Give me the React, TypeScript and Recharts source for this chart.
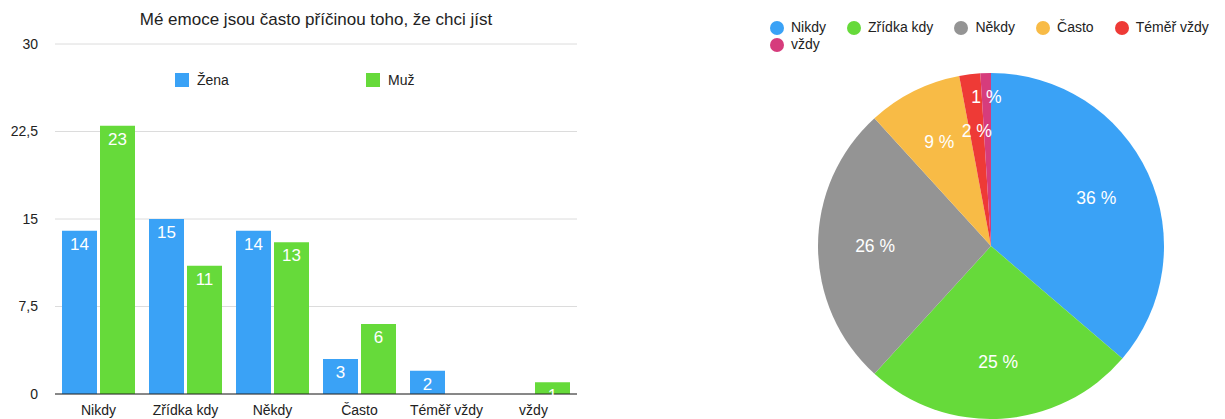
import { BarChart, Bar, XAxis, YAxis, CartesianGrid, LabelList, PieChart, Pie, Cell } from 'recharts'

const categories = ['Nikdy', 'Zřídka kdy', 'Někdy', 'Často', 'Téměř vždy', 'vždy']
const zena = [14, 15, 14, 3, 2, 0]
const muz = [23, 11, 13, 6, 0, 1]
const yTicks = [0, 7.5, 15, 22.5, 30]
const pieValues = [37, 26, 27, 9, 2, 1]
const seriesNames = ['Žena', 'Muž']

const BLUE = '#3aa2f6'
const GREEN = '#66da3a'
const barColors = [BLUE, GREEN]
const pieColors = [BLUE, GREEN, '#949494', '#f8bb46', '#ee3a36', '#d63c7c']

const FONT = '"Liberation Sans", Arial, Helvetica, sans-serif'

const barData = categories.map((c, i) => ({ name: c, zena: zena[i], muz: muz[i] }))
const pieData = categories.map((c, i) => ({ name: c, value: pieValues[i] }))
const pieTotal = pieValues.reduce((a, b) => a + b, 0)

const fmtNum = (v: number) => String(v).replace('.', ',')

const BarLegend = () => (
  <div style={{ position: 'absolute', left: 175, top: 71, display: 'flex', fontFamily: FONT, fontSize: 14, color: '#222', lineHeight: '18px' }}>
    {seriesNames.map((n, i) => (
      <div key={n} style={{ display: 'flex', alignItems: 'center', width: 191 }}>
        <span style={{ width: 14, height: 14, background: barColors[i], marginRight: 8, display: 'inline-block' }} />
        {n}
      </div>
    ))}
  </div>
)

const PieLegend = () => (
  <div style={{ position: 'absolute', left: 10, top: 19, width: 472, display: 'flex', flexWrap: 'wrap',
    fontFamily: FONT, fontSize: 14, color: '#222', lineHeight: '17px' }}>
    {categories.map((c, i) => (
      <div key={c} style={{ display: 'flex', alignItems: 'center', marginRight: 21 }}>
        <span style={{ width: 14, height: 14, borderRadius: '50%', background: pieColors[i], marginRight: 7, display: 'inline-block' }} />
        {c}
      </div>
    ))}
  </div>
)

const RADIAN = Math.PI / 180
const pieLabel = (props: any) => {
  const { cx, cy, midAngle, outerRadius, value, index } = props
  const r = outerRadius * (index === 5 ? 0.86 : 0.67)
  const x = cx + r * Math.cos(-midAngle * RADIAN)
  const y = cy + r * Math.sin(-midAngle * RADIAN)
  return (
    <text x={x} y={y} fill="#fff" textAnchor="middle" dominantBaseline="central"
      fontFamily={FONT} fontSize={17.5}>
      {`${Math.round((value / pieTotal) * 100)} %`}
    </text>
  )
}

export default function App() {
  return (
    <div style={{ position: 'absolute', left: 0, top: 0, width: 1225, height: 419, background: '#fff', overflow: 'hidden' }}>
      <div style={{ position: 'absolute', left: 0, top: 10, width: 632, textAlign: 'center',
        fontFamily: FONT, fontSize: 17, color: '#222' }}>
        Mé emoce jsou často příčinou toho, že chci jíst
      </div>
      <div style={{ position: 'absolute', left: 0, top: 0 }}>
        <BarChart width={600} height={419} data={barData}
          margin={{ top: 44, right: 23, bottom: 0, left: 0 }} barSize={35} barGap={3}>
          <CartesianGrid vertical={false} stroke="#dcdcdc" />
          <XAxis dataKey="name" height={25} tickLine={false} tickSize={0} tickMargin={11}
            axisLine={{ stroke: '#222', strokeWidth: 1.2 }} interval={0}
            tick={{ fontSize: 14, fontFamily: FONT, fill: '#222' }} />
          <YAxis width={55} domain={[0, 30]} ticks={yTicks} tickFormatter={fmtNum}
            axisLine={false} tickLine={false} tickSize={0} tickMargin={17}
            tick={{ fontSize: 14, fontFamily: FONT, fill: '#222' }} />
          <Bar dataKey="zena" name="Žena" fill={BLUE} isAnimationActive={false}>
            <LabelList dataKey="zena" position="insideTop" offset={7} fill="#fff"
              fontSize={17} fontFamily={FONT} formatter={(v: any) => (v ? v : '')} />
          </Bar>
          <Bar dataKey="muz" name="Muž" fill={GREEN} isAnimationActive={false}>
            <LabelList dataKey="muz" position="insideTop" offset={7} fill="#fff"
              fontSize={17} fontFamily={FONT} formatter={(v: any) => (v ? v : '')} />
          </Bar>
        </BarChart>
      </div>
      <BarLegend />
      <div style={{ position: 'absolute', left: 760, top: 0 }}>
        <PieChart width={465} height={419} margin={{ top: 0, right: 0, bottom: 0, left: 0 }}>
          <Pie data={pieData} dataKey="value" nameKey="name" cx={231} cy={246} outerRadius={173}
            startAngle={90} endAngle={-270} stroke="none" label={pieLabel} labelLine={false}
            isAnimationActive={false}>
            {pieData.map((d, i) => <Cell key={d.name} fill={pieColors[i]} />)}
          </Pie>
        </PieChart>
        <PieLegend />
      </div>
    </div>
  )
}
